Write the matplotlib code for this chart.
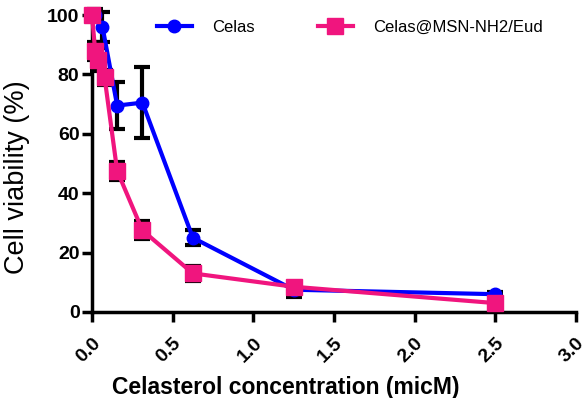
import matplotlib
matplotlib.use('Agg')
import matplotlib.pyplot as plt
from matplotlib.lines import Line2D

# Celas (free drug)
celas_x = [0.0195, 0.065, 0.156, 0.3125, 0.625, 1.25, 2.5]
celas_y = [100, 96, 69.5, 70.5, 25, 7.5, 6]
celas_err = [2, 5, 8, 12, 2.5, 2.5, 0.6]

# Celas@MSN-NH2/Eud
nano_x = [0.0, 0.0195, 0.039, 0.078, 0.156, 0.3125, 0.625, 1.25, 2.5]
nano_y = [100, 88, 85, 79, 47.5, 27.5, 13, 8.5, 3]
nano_err = [1.5, 3, 4, 2.5, 3, 3, 2.5, 1, 0.5]

x_ticks = [0.0, 0.5, 1.0, 1.5, 2.0, 2.5, 3.0]
y_ticks = [0, 20, 40, 60, 80, 100]

BLUE = '#0000ff'
PINK = '#f0157e'
FONT = 'Liberation Sans'

fig = plt.figure(figsize=(5.86, 3.98), dpi=100)
ax = fig.add_axes([92 / 586, 86 / 398, 484 / 586, 297 / 398])

for xs, ys, es in [(celas_x, celas_y, celas_err), (nano_x, nano_y, nano_err)]:
    ax.errorbar(xs, ys, yerr=es, fmt='none', ecolor='black', elinewidth=3,
                capsize=6, capthick=3, zorder=2, clip_on=False)

ax.plot(celas_x, celas_y, color=BLUE, linewidth=3, marker='o', markersize=9,
        zorder=3, clip_on=False, label='Celas')
ax.plot(nano_x, nano_y, color=PINK, linewidth=3, marker='s', markersize=11,
        zorder=4, clip_on=False, label='Celas@MSN-NH2/Eud')

ax.set_xlim(0, 3.0)
ax.set_ylim(0, 100)
ax.set_xticks(x_ticks)
ax.set_yticks(y_ticks)
ax.set_xticklabels([f'{v:.1f}' for v in x_ticks], rotation=45, ha='right',
                   va='top', rotation_mode='anchor', fontsize=14,
                   fontweight='bold', family=FONT)
ax.set_yticklabels([str(v) for v in y_ticks], fontsize=14, fontweight='bold',
                   family=FONT)

for s in ['top', 'right']:
    ax.spines[s].set_visible(False)
for s in ['left', 'bottom']:
    ax.spines[s].set_linewidth(2.5)
ax.tick_params(width=2.5, length=7, direction='out')
ax.tick_params(axis='x', pad=9)
ax.tick_params(axis='y', pad=2)

ax.set_xlabel('Celasterol concentration (micM)', fontsize=16.5, fontweight='bold',
              family=FONT, va='bottom')
ax.xaxis.set_label_coords(0.40, -88 / 297 + 0.005)
ax.set_ylabel('Cell viability (%)', fontsize=19.5, family=FONT, va='center')
ax.yaxis.set_label_coords(-75 / 484, 0.5 - 14 / 297)

handles = [
    Line2D([0], [0], color=BLUE, linewidth=3, marker='o', markersize=9),
    Line2D([0], [0], color=PINK, linewidth=3, marker='s', markersize=11),
]
ax.legend(handles, ['Celas', 'Celas@MSN-NH2/Eud'], loc='upper left',
          bbox_to_anchor=(0.103, 1.035), ncol=2, frameon=False,
          prop={'family': FONT, 'size': 12}, handlelength=2.1,
          handletextpad=1.2, columnspacing=3.8)

fig.savefig('out.png', dpi=100)
